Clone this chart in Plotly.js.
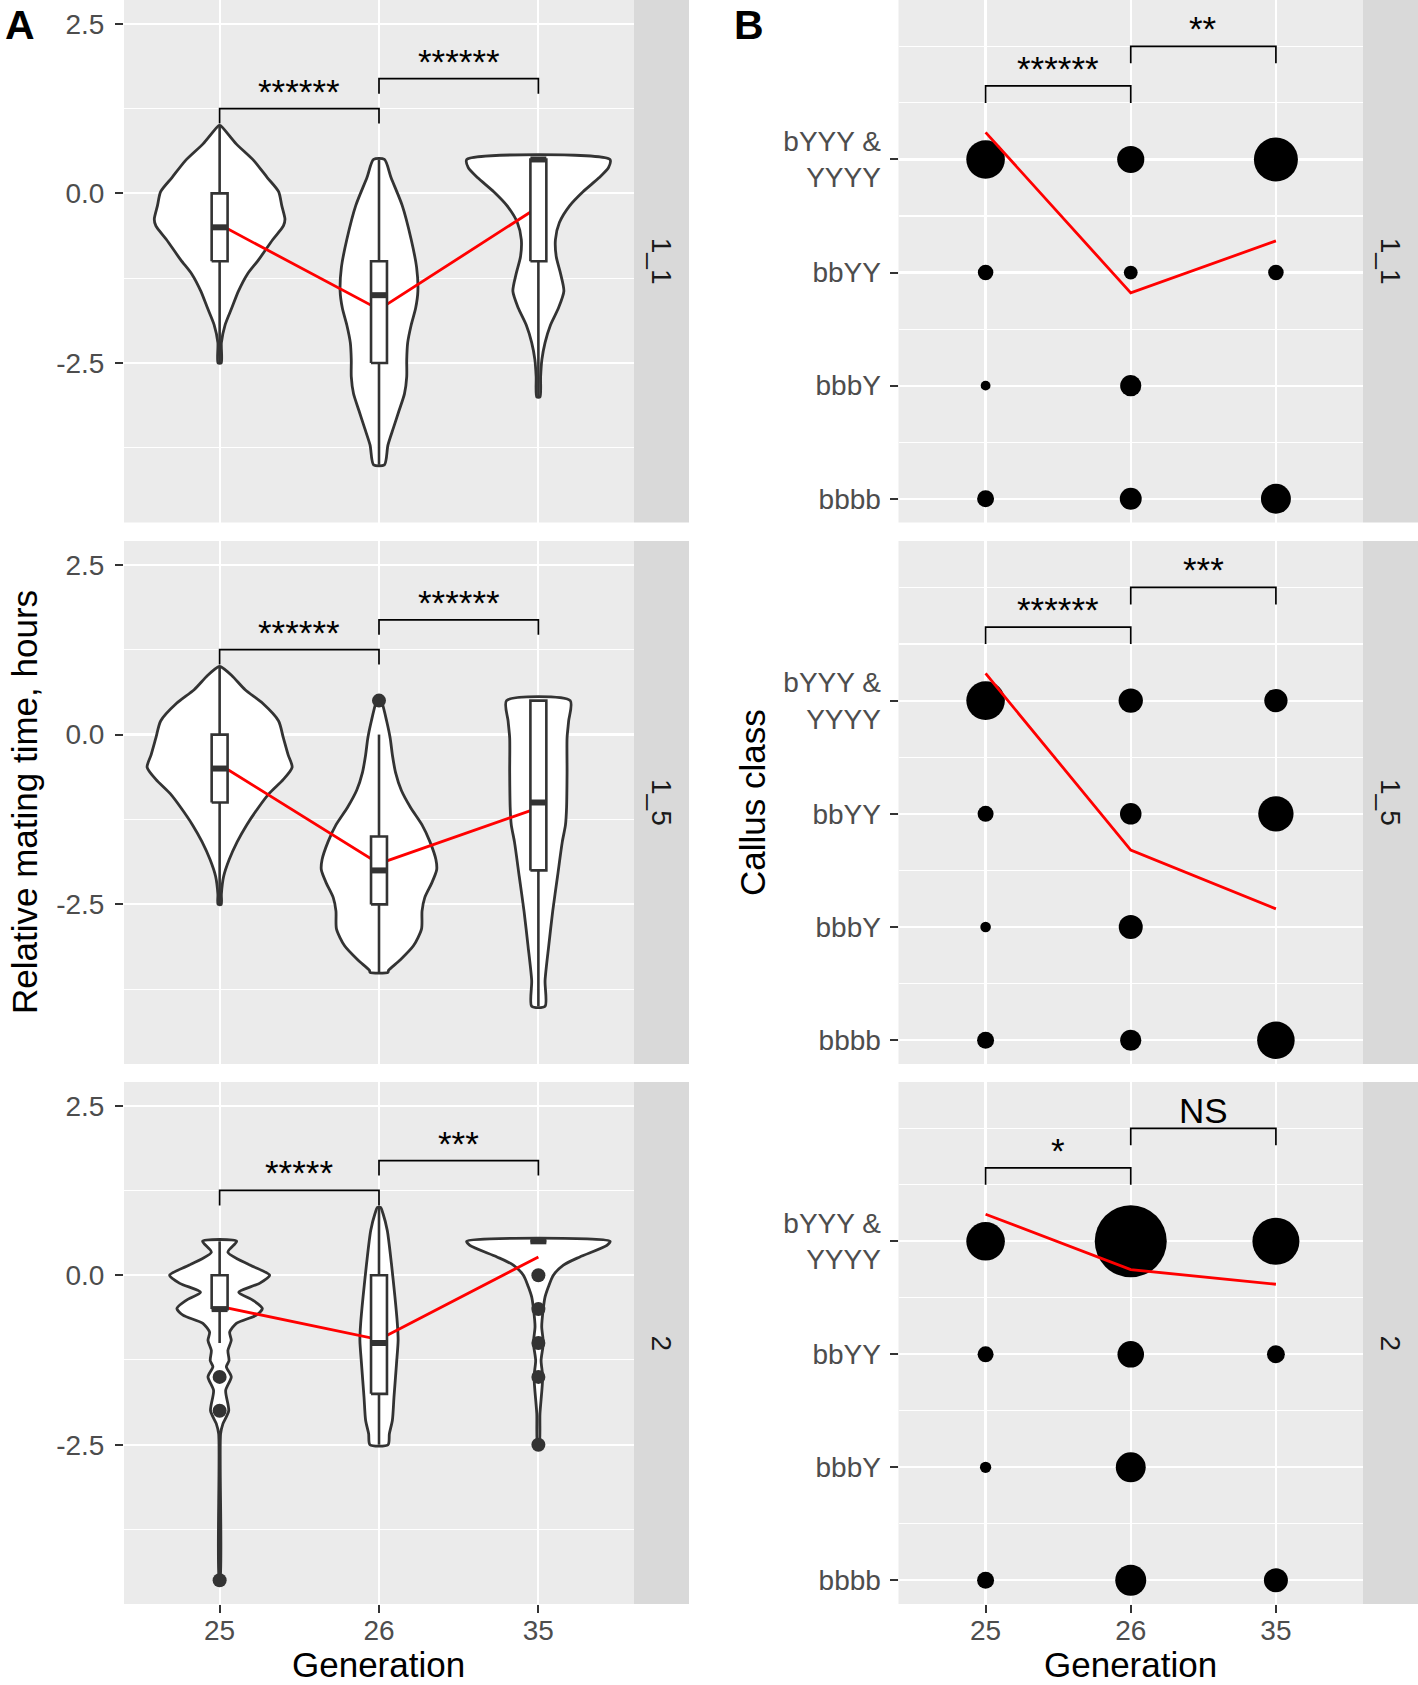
<!DOCTYPE html>
<html><head><meta charset="utf-8">
<script src="https://cdn.plot.ly/plotly-3.0.1.min.js"></script>
<style>html,body{margin:0;padding:0;background:#fff}</style>
</head><body><div id="chart" style="width:1418px;height:1685px"></div>
<script>
// ---------------- DATA ----------------
const generations = ['25', '26', '35'];
const facets = ['1_1', '1_5', '2'];
const callusClasses = ['bYYY &<br>YYYY', 'bbYY', 'bbbY', 'bbbb'];
const callusLevels = [4, 3, 2, 1];

// Panel A: violin outlines (value levels, density half-width in category units)
const vY_11_25 = [1.0, 0.73, 0.48, 0.23, 0.025, -0.18, -0.38, -0.48, -0.68, -0.98, -1.19, -1.44, -1.69, -1.94, -2.2, -2.5];
const vW_11_25 = [0.005, 0.104, 0.216, 0.30, 0.37, 0.39, 0.41, 0.40, 0.334, 0.244, 0.174, 0.118, 0.076, 0.034, 0.011, 0.01];
const vY_11_26 = [0.5, 0.23, -0.18, -0.68, -1.09, -1.44, -1.69, -1.94, -2.2, -2.45, -2.7, -2.95, -3.2, -3.46, -3.71, -4.0];
const vW_11_26 = [0.034, 0.076, 0.146, 0.202, 0.236, 0.244, 0.23, 0.202, 0.18, 0.174, 0.174, 0.16, 0.126, 0.09, 0.056, 0.034];
const vY_11_35 = [0.5, 0.38, 0.23, 0.025, -0.18, -0.43, -0.68, -0.93, -1.19, -1.44, -1.69, -1.94, -2.2, -2.45, -2.7, -3.0];
const vW_11_35 = [0.449, 0.44, 0.38, 0.28, 0.197, 0.132, 0.107, 0.112, 0.14, 0.16, 0.126, 0.076, 0.042, 0.022, 0.014, 0.01];

const vY_15_25 = [1.0, 0.87, 0.66, 0.46, 0.2, -0.05, -0.3, -0.48, -0.66, -0.87, -1.07, -1.33, -1.58, -1.84, -2.09, -2.35, -2.5];
const vW_15_25 = [0.005, 0.076, 0.16, 0.27, 0.37, 0.40, 0.43, 0.455, 0.40, 0.31, 0.245, 0.17, 0.11, 0.06, 0.025, 0.011, 0.01];
const vY_15_26 = [0.5, 0.46, 0.2, -0.05, -0.3, -0.56, -0.82, -1.07, -1.33, -1.58, -1.84, -1.99, -2.19, -2.4, -2.6, -2.86, -3.11, -3.32, -3.47, -3.5];
const vW_15_26 = [0.01, 0.02, 0.048, 0.07, 0.084, 0.104, 0.14, 0.197, 0.27, 0.32, 0.357, 0.362, 0.33, 0.287, 0.27, 0.267, 0.216, 0.132, 0.06, 0.056];
const vY_15_35 = [0.5, 0.2, -0.05, -0.56, -1.07, -1.33, -1.58, -2.09, -2.6, -3.11, -3.62, -4.0];
const vW_15_35 = [0.2, 0.19, 0.18, 0.18, 0.177, 0.17, 0.15, 0.12, 0.09, 0.065, 0.042, 0.042];

const vY_2_25 = [0.5, 0.34, 0.15, 0.0, -0.12, -0.25, -0.37, -0.49, -0.59, -0.71, -0.84, -0.96, -1.11, -1.26, -1.35, -1.5, -1.7, -2.0, -2.19, -2.34, -4.5];
const vW_2_25 = [0.107, 0.052, 0.19, 0.314, 0.25, 0.12, 0.21, 0.268, 0.23, 0.105, 0.063, 0.073, 0.052, 0.059, 0.042, 0.073, 0.038, 0.057, 0.021, 0.006, 0.003];
const vY_2_26 = [1.0, 0.91, 0.66, 0.17, -0.32, -0.71, -0.96, -1.3, -1.8, -2.14, -2.34, -2.5];
const vW_2_26 = [0.01, 0.025, 0.052, 0.078, 0.1, 0.115, 0.12, 0.11, 0.094, 0.084, 0.065, 0.057];
const vY_2_35 = [0.5, 0.44, 0.27, 0.15, 0.0, -0.17, -0.32, -0.49, -0.76, -1.0, -1.26, -1.5, -2.04, -2.5];
const vW_2_35 = [0.45, 0.43, 0.26, 0.157, 0.094, 0.063, 0.042, 0.031, 0.021, 0.031, 0.017, 0.027, 0.01, 0.005];

// Panel A: box statistics [lower whisker, Q1, median, Q3, upper whisker]
const box_11 = [[-2.5, -1.0, -0.5, 0.0, 1.0], [-4.0, -2.5, -1.5, -1.0, 0.5], [-3.0, -1.0, 0.5, 0.5, 0.5]];
const box_15 = [[-2.5, -1.0, -0.5, 0.0, 1.0], [-3.5, -2.5, -2.0, -1.5, 0.0], [-4.0, -2.0, -1.0, 0.5, 0.5]];
const box_2  = [[-1.0, -0.5, -0.5, 0.0, 0.5], [-2.5, -1.75, -1.0, 0.0, 1.0], [0.5, 0.5, 0.5, 0.5, 0.5]];
// outliers
const out_11 = [[], [], []];
const out_15 = [[], [0.5], []];
const out_2  = [[-1.5, -2.0, -4.5], [], [0.0, -0.5, -1.0, -1.5, -2.5]];
// means (red line)
const meanA_11 = [-0.46, -1.71, -0.2];
const meanA_15 = [-0.44, -1.9, -1.08];
const meanA_2  = [-0.46, -0.95, 0.27];
// significance labels [25 vs 26, 26 vs 35]
const sigA_11 = ['******', '******'];
const sigA_15 = ['******', '******'];
const sigA_2  = ['*****', '***'];
const bracketA = [1.25, 1.69];

// Panel B: counts per class [bYYY&YYYY, bbYY, bbbY, bbbb] for each generation (null = none)
const nB_11_25 = [93, 15, 6, 18];
const nB_11_26 = [46, 12, 28, 30];
const nB_11_35 = [121, 15, null, 56];
const nB_15_25 = [93, 16, 7, 18];
const nB_15_26 = [37, 29, 36, 28];
const nB_15_35 = [34, 78, null, 88];
const nB_2_25 = [93, 16, 8, 18];
const nB_2_26 = [324, 44, 56, 60];
const nB_2_35 = [138, 20, null, 36];
const meanB_11 = [4.24, 2.82, 3.28];
const meanB_15 = [4.24, 2.68, 2.16];
const meanB_2  = [4.24, 3.75, 3.62];
const sigB_11 = ['******', '**'];
const sigB_15 = ['******', '***'];
const sigB_2  = ['*', 'NS'];
const bracketB = [4.65, 5.0];

// ---------------- GROUPING ----------------
const violinYs = [[vY_11_25, vY_11_26, vY_11_35], [vY_15_25, vY_15_26, vY_15_35], [vY_2_25, vY_2_26, vY_2_35]];
const violinWs = [[vW_11_25, vW_11_26, vW_11_35], [vW_15_25, vW_15_26, vW_15_35], [vW_2_25, vW_2_26, vW_2_35]];
const boxes = [box_11, box_15, box_2];
const outliers = [out_11, out_15, out_2];
const meansA = [meanA_11, meanA_15, meanA_2];
const sigsA = [sigA_11, sigA_15, sigA_2];
const countsB = [[nB_11_25, nB_11_26, nB_11_35], [nB_15_25, nB_15_26, nB_15_35], [nB_2_25, nB_2_26, nB_2_35]];
const meansB = [meanB_11, meanB_15, meanB_2];
const sigsB = [sigB_11, sigB_15, sigB_2];

// ---------------- LAYOUT CONSTANTS ----------------
const FONT = 'Liberation Sans, Arial, Helvetica, sans-serif';
const W = 1418, H = 1685;
const px = v => v / W;
const py = v => 1 - v / H;
const colA = [124, 634], colB = [898.5, 1363];
const stripW = 55;
const rowsPx = [[0, 522.5], [541, 1064], [1082, 1604]];
const OUT = '#333333';
const BOXHALF = 0.05, TIP_A = 0.22, TIP_B = 0.15;

const traces = [];
const annotations = [];
const shapes = [];
const layout = {
  width: W, height: H,
  margin: {l: 0, r: 0, t: 0, b: 0},
  paper_bgcolor: '#ffffff', plot_bgcolor: '#EBEBEB',
  showlegend: false,
  font: {family: FONT, color: '#4D4D4D'},
};

function axId(n) { return n === 1 ? '' : String(n); }

for (let r = 0; r < 3; r++) {
  const aN = r + 1, bN = r + 4;
  const xa = 'x' + axId(aN), ya = 'y' + axId(aN);
  const xb = 'x' + axId(bN), yb = 'y' + axId(bN);
  const yDom = [py(rowsPx[r][1]), py(rowsPx[r][0])];
  const bottom = r === 2;

  const xCommon = {
    range: [0.4, 3.6], tickmode: 'array', tickvals: [1, 2, 3], ticktext: generations,
    showgrid: true, gridcolor: '#FFFFFF', gridwidth: 2.2, zeroline: false, showline: false,
    showticklabels: bottom, ticks: bottom ? 'outside' : '', ticklen: 8, tickwidth: 2, tickcolor: OUT,
    ticklabelstandoff: -7,
    tickfont: {family: FONT, size: 28, color: '#4D4D4D'}, fixedrange: true
  };
  layout['xaxis' + axId(aN)] = Object.assign({}, xCommon, {domain: [px(colA[0]), px(colA[1])], anchor: ya});
  layout['xaxis' + axId(bN)] = Object.assign({}, xCommon, {domain: [px(colB[0]), px(colB[1])], anchor: yb});

  layout['yaxis' + axId(aN)] = {
    domain: yDom, anchor: xa, range: [-4.85, 2.85],
    tickmode: 'array', tickvals: [-2.5, 0, 2.5], ticktext: ['-2.5', '0.0', '2.5'],
    showgrid: true, gridcolor: '#FFFFFF', gridwidth: 2.2, zeroline: false, showline: false,
    minor: {tickvals: [-3.75, -1.25, 1.25], showgrid: true, gridcolor: '#FFFFFF', gridwidth: 1.1, ticks: ''},
    ticks: 'outside', ticklen: 8, tickwidth: 2, tickcolor: OUT, ticklabelstandoff: 5,
    tickfont: {family: FONT, size: 28, color: '#4D4D4D'}, fixedrange: true
  };
  layout['yaxis' + axId(bN)] = {
    domain: yDom, anchor: xb, range: [0.79, 5.41],
    tickmode: 'array', tickvals: callusLevels, ticktext: callusClasses,
    showgrid: true, gridcolor: '#FFFFFF', gridwidth: 2.2, zeroline: false, showline: false,
    minor: {tickvals: [1.5, 2.5, 3.5, 4.5, 5.0], showgrid: true, gridcolor: '#FFFFFF', gridwidth: 1.1, ticks: ''},
    ticks: 'outside', ticklen: 8, tickwidth: 2, tickcolor: OUT, ticklabelstandoff: 3,
    tickfont: {family: FONT, size: 28, color: '#4D4D4D'}, fixedrange: true
  };

  // ---- Panel A ----
  // violins
  for (let g = 0; g < 3; g++) {
    const c = g + 1, ys = violinYs[r][g], ws = violinWs[r][g];
    const vx = [], vy = [];
    for (let i = 0; i < ys.length; i++) { vx.push(c + ws[i]); vy.push(ys[i]); }
    for (let i = ys.length - 1; i >= 0; i--) { vx.push(c - ws[i]); vy.push(ys[i]); }
    vx.push(vx[0]); vy.push(vy[0]);
    traces.push({type: 'scatter', mode: 'lines', x: vx, y: vy, xaxis: xa, yaxis: ya,
      fill: 'toself', fillcolor: '#FFFFFF', line: {color: OUT, width: 2.8, shape: 'spline', smoothing: 0.7},
      hoverinfo: 'skip'});
  }
  // mean line
  traces.push({type: 'scatter', mode: 'lines', x: [1, 2, 3], y: meansA[r], xaxis: xa, yaxis: ya,
    line: {color: '#FF0000', width: 2.8}, hoverinfo: 'skip'});
  // boxes
  for (let g = 0; g < 3; g++) {
    const c = g + 1, [lo, q1, md, q3, hi] = boxes[r][g];
    traces.push({type: 'scatter', mode: 'lines', x: [c, c, null, c, c], y: [q3, hi, null, q1, lo],
      xaxis: xa, yaxis: ya, line: {color: OUT, width: 2.6}, hoverinfo: 'skip'});
    traces.push({type: 'scatter', mode: 'lines',
      x: [c - BOXHALF, c + BOXHALF, c + BOXHALF, c - BOXHALF, c - BOXHALF],
      y: [q1, q1, q3, q3, q1], xaxis: xa, yaxis: ya, fill: 'toself', fillcolor: '#FFFFFF',
      line: {color: OUT, width: 2.6}, hoverinfo: 'skip'});
    traces.push({type: 'scatter', mode: 'lines', x: [c - BOXHALF, c + BOXHALF], y: [md, md],
      xaxis: xa, yaxis: ya, line: {color: OUT, width: 6}, hoverinfo: 'skip'});
    if (outliers[r][g].length) {
      traces.push({type: 'scatter', mode: 'markers', x: outliers[r][g].map(() => c), y: outliers[r][g],
        xaxis: xa, yaxis: ya, opacity: 1, marker: {color: OUT, size: 14, opacity: 1}, hoverinfo: 'skip'});
    }
  }
  // brackets A
  [[1, 2], [2, 3]].forEach((pair, k) => {
    const by = bracketA[k];
    traces.push({type: 'scatter', mode: 'lines', x: [pair[0], pair[0], pair[1], pair[1]],
      y: [by - TIP_A, by, by, by - TIP_A], xaxis: xa, yaxis: ya,
      line: {color: '#000000', width: 1.7}, hoverinfo: 'skip'});
    annotations.push({xref: xa, yref: ya, x: (pair[0] + pair[1]) / 2, y: by, yanchor: 'bottom', yshift: -4,
      text: sigsA[r][k], showarrow: false, font: {family: FONT, size: 35, color: '#000000'}});
  });

  // ---- Panel B ----
  const dx = [], dy = [], ds = [];
  for (let g = 0; g < 3; g++) {
    countsB[r][g].forEach((n, k) => {
      if (n !== null) { dx.push(g + 1); dy.push(callusLevels[k]); ds.push(4 * Math.sqrt(n)); }
    });
  }
  traces.push({type: 'scatter', mode: 'markers', x: dx, y: dy, xaxis: xb, yaxis: yb, opacity: 1,
    marker: {color: '#000000', size: ds, opacity: 1, line: {width: 0}}, hoverinfo: 'skip'});
  traces.push({type: 'scatter', mode: 'lines', x: [1, 2, 3], y: meansB[r], xaxis: xb, yaxis: yb,
    line: {color: '#FF0000', width: 2.8}, hoverinfo: 'skip'});
  [[1, 2], [2, 3]].forEach((pair, k) => {
    const by = bracketB[k];
    traces.push({type: 'scatter', mode: 'lines', x: [pair[0], pair[0], pair[1], pair[1]],
      y: [by - TIP_B, by, by, by - TIP_B], xaxis: xb, yaxis: yb,
      line: {color: '#000000', width: 1.7}, hoverinfo: 'skip'});
    annotations.push({xref: xb, yref: yb, x: (pair[0] + pair[1]) / 2, y: by, yanchor: 'bottom', yshift: -4,
      text: sigsB[r][k], showarrow: false, font: {family: FONT, size: 35, color: '#000000'}});
  });

  // strips
  [colA, colB].forEach(col => {
    shapes.push({type: 'rect', xref: 'paper', yref: 'paper', x0: px(col[1]), x1: px(col[1] + stripW),
      y0: yDom[0], y1: yDom[1], fillcolor: '#D9D9D9', line: {width: 0}, layer: 'below'});
    annotations.push({xref: 'paper', yref: 'paper', x: px(col[1] + stripW / 2), y: (yDom[0] + yDom[1]) / 2,
      text: facets[r], textangle: 90, showarrow: false, xanchor: 'center', yanchor: 'middle',
      font: {family: FONT, size: 28, color: '#1A1A1A'}});
  });
}

// axis titles & panel letters
const midY = py((rowsPx[0][0] + rowsPx[2][1]) / 2);
annotations.push({xref: 'paper', yref: 'paper', x: px(24), y: midY, text: 'Relative mating time, hours',
  textangle: -90, showarrow: false, xanchor: 'center', yanchor: 'middle', font: {family: FONT, size: 35, color: '#000000'}});
annotations.push({xref: 'paper', yref: 'paper', x: px(752), y: midY, text: 'Callus class',
  textangle: -90, showarrow: false, xanchor: 'center', yanchor: 'middle', font: {family: FONT, size: 35, color: '#000000'}});
annotations.push({xref: 'paper', yref: 'paper', x: px((colA[0] + colA[1]) / 2), y: 0, text: 'Generation',
  showarrow: false, xanchor: 'center', yanchor: 'bottom', borderpad: 0, font: {family: FONT, size: 35, color: '#000000'}});
annotations.push({xref: 'paper', yref: 'paper', x: px((colB[0] + colB[1]) / 2), y: 0, text: 'Generation',
  showarrow: false, xanchor: 'center', yanchor: 'bottom', borderpad: 0, font: {family: FONT, size: 35, color: '#000000'}});
annotations.push({xref: 'paper', yref: 'paper', x: px(3), y: py(0), text: '<b>A</b>',
  showarrow: false, xanchor: 'left', yanchor: 'top', font: {family: FONT, size: 41, color: '#000000'}});
annotations.push({xref: 'paper', yref: 'paper', x: px(732), y: py(0), text: '<b>B</b>',
  showarrow: false, xanchor: 'left', yanchor: 'top', font: {family: FONT, size: 41, color: '#000000'}});

layout.annotations = annotations;
layout.shapes = shapes;

Plotly.newPlot('chart', traces, layout, {staticPlot: true, displayModeBar: false});
</script>
</body></html>
